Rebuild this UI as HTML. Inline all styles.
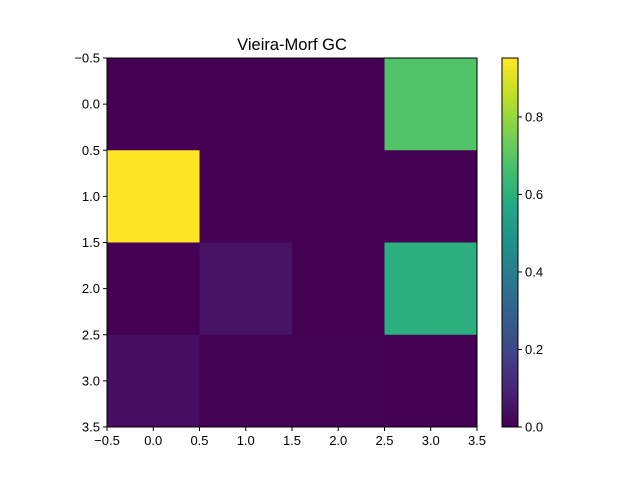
<!DOCTYPE html>
<html><head><meta charset="utf-8"><style>body{margin:0;background:#fff}svg{display:block;font-family:"Liberation Sans",sans-serif}</style></head>
<body>
<svg id="chart" width="640" height="480">
<text x="292" y="50" text-anchor="middle" font-size="16.5">Vieira-Morf GC</text>
<g id="cells"></g><g id="axes"></g><g id="cbar"></g>
</svg>
<script>
const rowLabels=["0","1","2","3"];
const colLabels=["0","1","2","3"];
const values=[[0,0,0,0.69],[0.952,0,0,0],[0,0.048,0,0.60],[0.035,0.003,0.002,0]];
const xTicks=[-0.5,0,0.5,1,1.5,2,2.5,3,3.5];
const cbTicks=[0,0.2,0.4,0.6,0.8];
const vmin=0,vmax=0.952;
const V=[[68,1,84],[72,36,117],[65,68,135],[53,95,141],[42,120,142],[33,145,140],[34,168,132],[68,191,112],[122,209,81],[189,223,38],[253,231,37]];
function cmap(t){t=Math.max(0,Math.min(1,t))*10;const i=Math.min(9,Math.floor(t)),f=t-i;const a=V[i],b=V[i+1];return `rgb(${a.map((c,k)=>Math.round(c+(b[k]-c)*f)).join(',')})`;}
const L=107,R=477,T=58,B=427;
const sx=v=>L+(v+0.5)/4*(R-L), sy=v=>T+(v+0.5)/4*(B-T);
const NS="http://www.w3.org/2000/svg";
function mk(tag,attrs,parent,text){const e=document.createElementNS(NS,tag);for(const k in attrs)e.setAttribute(k,attrs[k]);if(text!==undefined)e.textContent=text;parent.appendChild(e);return e;}
const cells=document.getElementById('cells');
values.forEach((row,r)=>row.forEach((v,c)=>{
 const e=mk('rect',{x:sx(c-0.5),y:sy(r-0.5),width:sx(c+0.5)-sx(c-0.5)+0.5,height:sy(r+0.5)-sy(r-0.5)+0.5,fill:cmap((v-vmin)/(vmax-vmin))},cells);
 
 
}));
const ax=document.getElementById('axes');
const fr=mk('rect',{x:L,y:T,width:R-L,height:B-T,fill:'none',stroke:'#000','stroke-width':1},ax);


xTicks.forEach(t=>{
 const x=sx(t),y=sy(t);
 mk('line',{x1:x,x2:x,y1:B,y2:B+4,stroke:'#000'},ax);
 const lx=mk('text',{x:x,y:B+18,'text-anchor':'middle','font-size':13},ax,(t<0?'\u2212':'')+Math.abs(t).toFixed(1));
 
 
 mk('line',{x1:L-4,x2:L,y1:y,y2:y,stroke:'#000'},ax);
 const ly=mk('text',{x:L-7,y:y+4.5,'text-anchor':'end','font-size':13},ax,(t<0?'\u2212':'')+Math.abs(t).toFixed(1));
 
 
});
const cb=document.getElementById('cbar');
const CL=502,CR=518;
const cy=v=>B-(v-vmin)/(vmax-vmin)*(B-T);
for(let i=0;i<200;i++){const v0=vmin+(vmax-vmin)*i/200,v1=vmin+(vmax-vmin)*(i+1)/200;
 mk('rect',{x:CL,y:cy(v1),width:CR-CL,height:cy(v0)-cy(v1)+0.5,fill:cmap(i/199)},cb);}
const cf=mk('rect',{x:CL,y:T,width:CR-CL,height:B-T,fill:'none',stroke:'#000'},cb);


cbTicks.forEach(t=>{const y=cy(t);
 mk('line',{x1:CR,x2:CR+4,y1:y,y2:y,stroke:'#000'},cb);
 const e=mk('text',{x:CR+7,y:y+4.5,'font-size':13},cb,t.toFixed(1));
 
 
});
</script>
</body></html>
